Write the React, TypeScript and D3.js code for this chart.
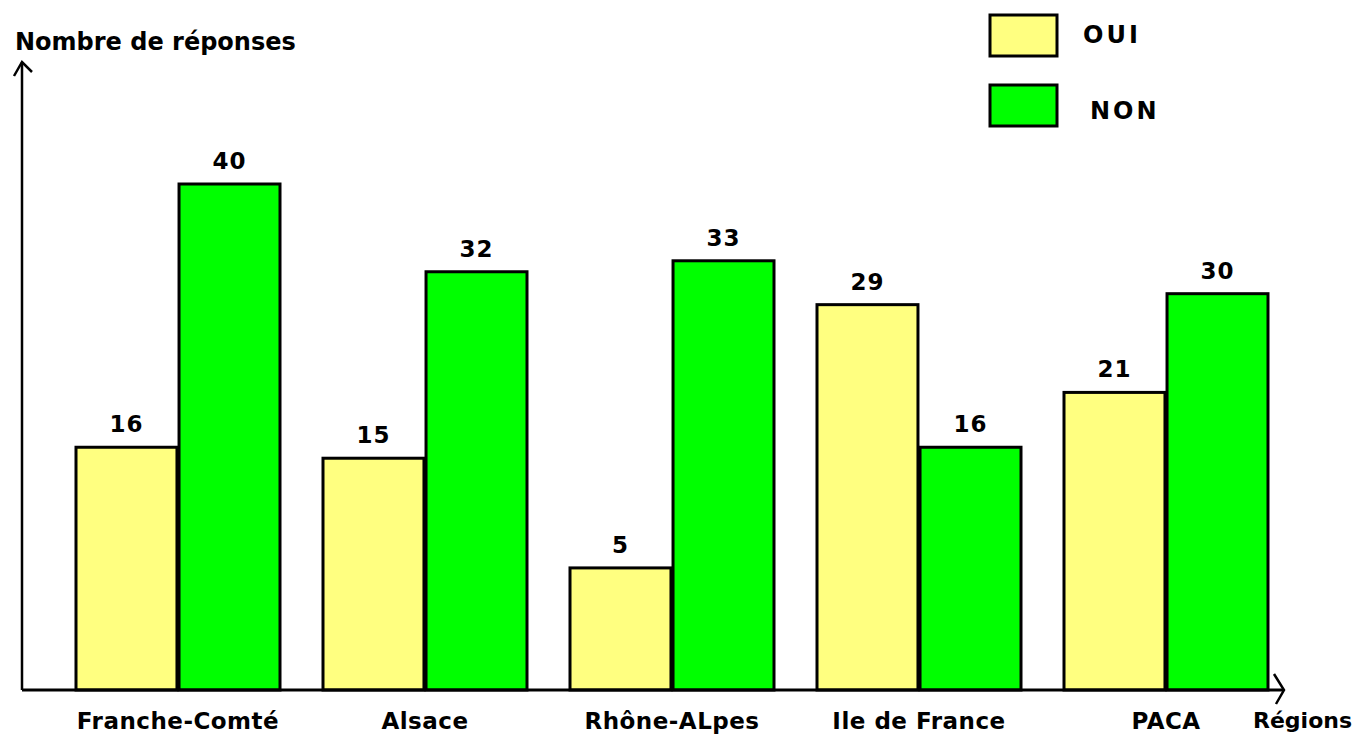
import React from "react";
import * as d3 from "d3";

const regions = ["Franche-Comté", "Alsace", "Rhône-ALpes", "Ile de France", "PACA"];
const ouiValues = [16, 15, 5, 29, 21];
const nonValues = [40, 32, 33, 16, 30];
const seriesNames = ["OUI", "NON"];
const seriesColors = ["#ffff80", "#00ff00"];

const W = 1361;
const H = 735;
const FONT = "'Comic Sans MS', 'DejaVu Sans', sans-serif";

export default function App() {
  const baseY = 690;
  const axisX = 22;
  const x0 = d3.scalePoint<string>().domain(regions).range([178, 1166]);
  const x1 = d3.scaleBand<string>().domain(seriesNames).range([-102, 102]).paddingInner(0.02);
  // hand-drawn original: bars not proportional from zero; fitted linear scale
  const y = d3.scaleLinear().domain([-6.13, 40]).range([baseY, 184]);

  const rows = regions.map((r, i) => ({ region: r, values: [ouiValues[i], nonValues[i]] }));

  return (
    <svg width={W} height={H} style={{ position: "absolute", left: 0, top: 0, background: "#fff" }}
      fontFamily={FONT} fontWeight="bold">
      {/* bars */}
      {rows.map((row) => (
        <g key={row.region} transform={`translate(${x0(row.region)},0)`}>
          {row.values.map((v, j) => {
            const bx = x1(seriesNames[j])!;
            const by = y(v);
            return (
              <g key={j}>
                <rect x={bx} y={by} width={x1.bandwidth()} height={baseY - by}
                  fill={seriesColors[j]} stroke="#000" strokeWidth={3} />
                <text x={bx + x1.bandwidth() / 2} y={by - 15} textAnchor="middle"
                  fontSize={23} letterSpacing={1} fill="#000">{v}</text>
              </g>
            );
          })}
          <text x={0} y={729} textAnchor="middle" fontSize={23} letterSpacing={0.5} fill="#000">{row.region}</text>
        </g>
      ))}

      {/* axes */}
      <line x1={axisX} y1={baseY} x2={1284} y2={baseY} stroke="#000" strokeWidth={3} />
      <polyline points={`1274,674 1284,${baseY} 1276,704`} fill="none" stroke="#000" strokeWidth={2.5} />
      <line x1={axisX} y1={baseY} x2={axisX} y2={62} stroke="#000" strokeWidth={2.5} />
      <polyline points={`14,76 ${axisX},62 32,72`} fill="none" stroke="#000" strokeWidth={2.5} />

      <text x={15} y={50} fontSize={24} fill="#000">Nombre de réponses</text>
      <text x={1253} y={728} fontSize={22} fill="#000">Régions</text>

      {/* legend */}
      {seriesNames.map((s, i) => (
        <g key={s}>
          <rect x={990} y={15 + i * 70} width={67} height={41} fill={seriesColors[i]} stroke="#000" strokeWidth={3} />
          <text x={1083 + i * 7} y={43 + i * 76} fontSize={24} letterSpacing={3} fill="#000">{s}</text>
        </g>
      ))}
    </svg>
  );
}
